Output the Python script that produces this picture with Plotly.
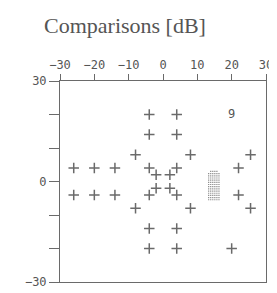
import plotly.graph_objects as go
import itertools

# test-point locations (degrees)
point_x = [-4, 4, -4, 4, -8, 8, 25.5,
           -26, -20, -14, -4, 4, 22,
           -2, 2, -2, 2,
           -26, -20, -14, -4, 4, 22,
           -8, 8, 25.5, -4, 4, -4, 4, 20]
point_y = [20, 20, 14, 14, 8, 8, 8,
           4, 4, 4, 4, 4, 4,
           2, 2, -2, -2,
           -4, -4, -4, -4, -4, -4,
           -8, -8, -8, -14, -14, -20, -20, -20]

# value label
label_x = [20]
label_y = [20]
label_text = ["9"]

# blind-spot dot pattern
blind_cols = [13.3, 13.9, 14.5, 15.1, 15.7, 16.3]
blind_rows = [3.0, 2.35, 1.7, 1.05, 0.4, -0.25, -0.9, -1.55, -2.2, -2.85, -3.5, -4.15, -4.8, -5.45]

blind_pts = [(x, y) for y, x in itertools.product(blind_rows, blind_cols)
             if not (y == blind_rows[0] and x in (blind_cols[0], blind_cols[-1]))]
blind_x = [p[0] for p in blind_pts]
blind_y = [p[1] for p in blind_pts]

x_ticks = [-30, -20, -10, 0, 10, 20, 30]
y_ticks = [-30, -20, -10, 0, 10, 20, 30]
y_ticktext = ["−30", "", "", "0", "", "", "30"]

gray = "#6a6a6a"
tickfont = dict(family="DejaVu Sans Mono", size=12, color="#555555")

fig = go.Figure()
fig.add_trace(go.Scatter(
    x=point_x, y=point_y, mode="markers",
    marker=dict(symbol="cross-thin", size=7.5, line=dict(width=1.5, color=gray)),
    hoverinfo="skip", showlegend=False))
fig.add_trace(go.Scatter(
    x=blind_x, y=blind_y, mode="markers",
    marker=dict(symbol="square", size=1.2, color="#888888"),
    hoverinfo="skip", showlegend=False))
fig.add_trace(go.Scatter(
    x=label_x, y=label_y, mode="text", text=label_text,
    textfont=tickfont, textposition="middle center",
    hoverinfo="skip", showlegend=False))

fig.update_layout(
    width=277, height=293,
    margin=dict(l=52, r=14, t=73, b=12),
    paper_bgcolor="white", plot_bgcolor="white",
    title=dict(text="Comparisons [dB]", x=36/277, xanchor="left", xref="container",
               y=1 - 17/293, yanchor="middle", yref="container",
               font=dict(family="Liberation Serif", size=22, color="#555555")),
    xaxis=dict(range=[-30, 30], side="top", tickmode="array", tickvals=x_ticks,
               ticks="outside", ticklen=6, tickcolor=gray, tickwidth=1,
               showline=True, linecolor=gray, linewidth=1, mirror=True,
               showgrid=False, zeroline=False, tickfont=tickfont),
    yaxis=dict(range=[-30, 30], tickmode="array", tickvals=y_ticks, ticktext=y_ticktext,
               ticks="outside", ticklen=10, tickcolor=gray, tickwidth=1,
               showline=True, linecolor=gray, linewidth=1, mirror=True,
               showgrid=False, zeroline=False, tickfont=tickfont),
)

fig.write_html("out.html")
